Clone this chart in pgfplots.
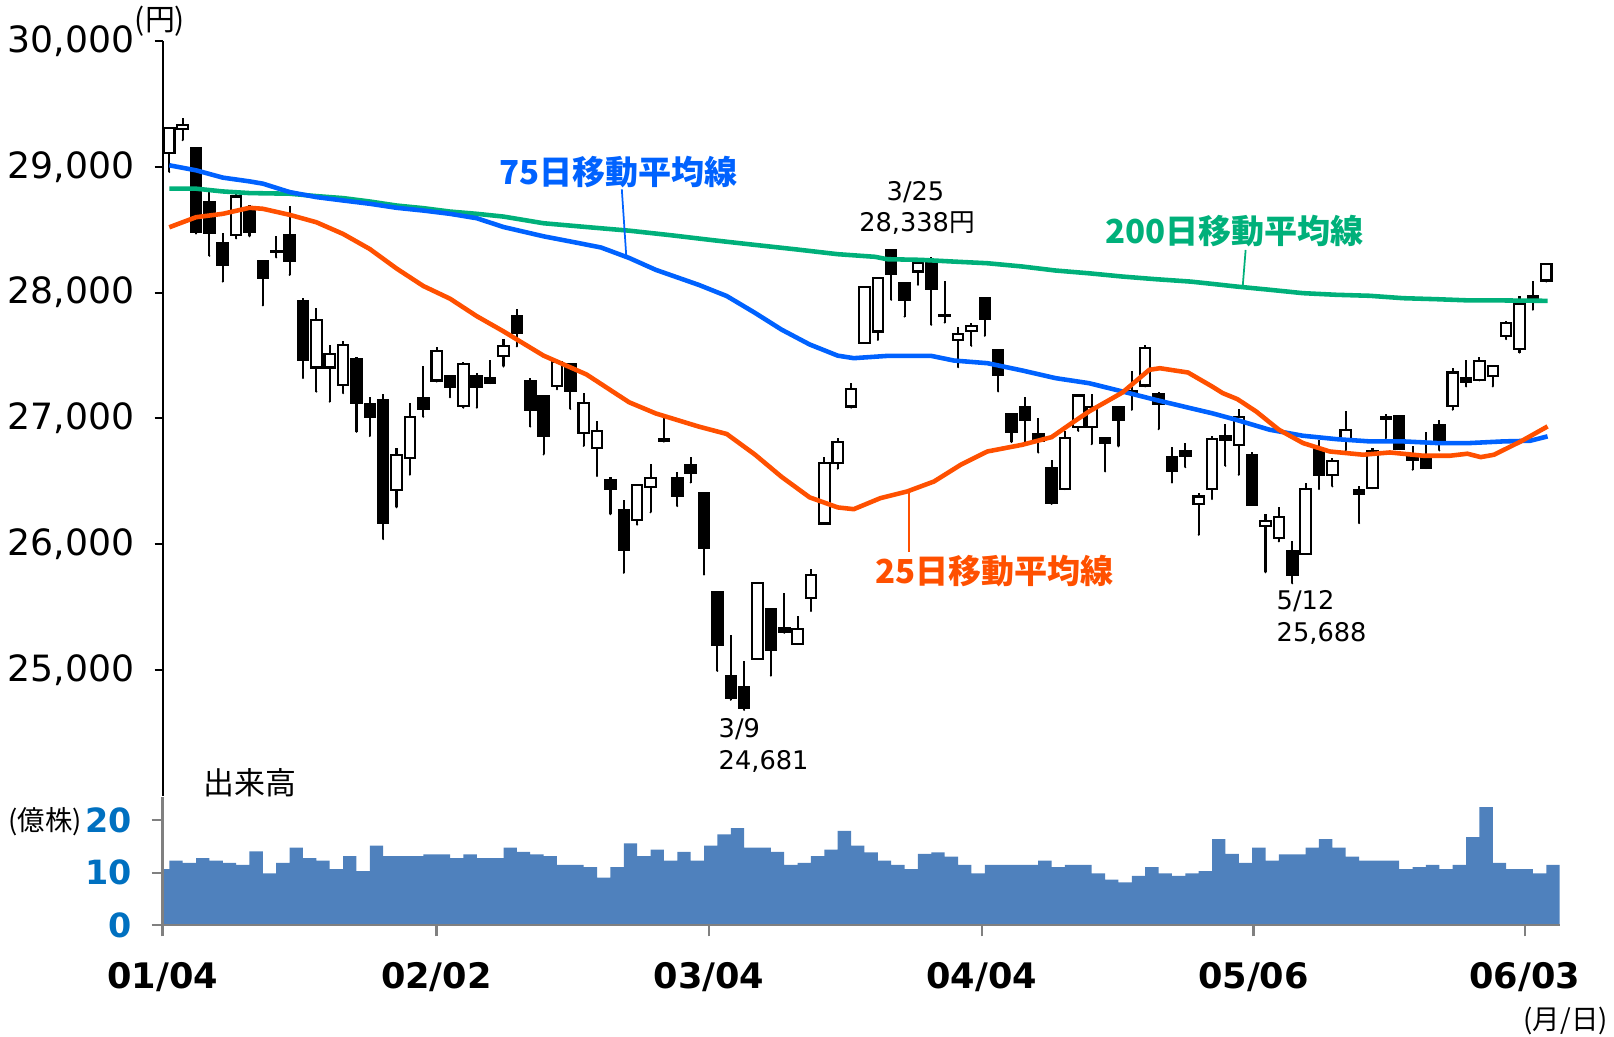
\documentclass[border=0pt]{standalone}
\usepackage{fontspec}
\setmainfont{DejaVu Sans}
\newfontfamily\jp{Noto Sans CJK JP}
\usepackage{pgfplots}
\usepackage{pgfplotstable}
\pgfplotsset{compat=1.18}

\definecolor{ma75}{RGB}{0,98,255}
\definecolor{ma25}{RGB}{255,80,0}
\definecolor{ma200}{RGB}{0,176,122}
\definecolor{volblue}{RGB}{79,129,189}
\definecolor{volnum}{RGB}{0,112,192}
\definecolor{axgray}{RGB}{128,128,128}

% daily candles: x = day index + 0.5, open high low close
\pgfplotstableread{
x o h l c
0.5 29112 29320 28960 29312
1.5 29299 29392 29213 29333
2.5 29147 29155 28470 28485
3.5 28720 28800 28293 28475
4.5 28392 28472 28088 28219
5.5 28459 28787 28432 28765
6.5 28672 28700 28448 28485
7.5 28253 28253 27899 28115
8.5 28320 28453 28280 28333
9.5 28461 28693 28141 28253
10.5 27933 27960 27320 27467
11.5 27405 27875 27213 27779
12.5 27405 27587 27133 27512
13.5 27267 27619 27200 27587
14.5 27475 27488 26893 27125
15.5 27112 27173 26859 27013
16.5 27147 27192 26040 26168
17.5 26432 26765 26293 26712
18.5 26685 27125 26552 27008
19.5 27165 27413 27013 27075
20.5 27301 27565 27293 27539
21.5 27333 27347 27168 27248
22.5 27099 27445 27085 27435
23.5 27333 27360 27085 27253
24.5 27320 27467 27280 27285
25.5 27493 27632 27413 27573
26.5 27810 27869 27573 27683
27.5 27297 27321 26935 27069
28.5 27181 27187 26713 26861
29.5 27255 27448 27232 27448
30.5 27430 27439 27075 27217
31.5 26882 27202 26781 27119
32.5 26763 26980 26541 26900
33.5 26511 26535 26238 26437
34.5 26274 26348 25772 25950
35.5 26194 26470 26155 26470
36.5 26455 26639 26253 26526
37.5 26822 27003 26815 26835
38.5 26529 26570 26303 26381
39.5 26630 26689 26490 26570
40.5 26407 26407 25758 25971
41.5 25621 25630 24992 25200
42.5 24954 25274 24761 24776
43.5 24865 25067 24681 24696
44.5 25087 25695 25087 25689
45.5 25482 25488 24954 25156
46.5 25333 25615 25295 25300
47.5 25206 25428 25206 25325
48.5 25571 25799 25467 25755
49.5 26164 26689 26164 26644
50.5 26644 26846 26600 26811
51.5 27095 27283 27085 27234
52.5 27603 28043 27603 28043
53.5 27691 28115 27624 28115
54.5 28335 28338 27943 28147
55.5 28080 28080 27810 27943
56.5 28168 28260 28062 28239
57.5 28239 28282 27744 28027
58.5 27825 28094 27762 27815
59.5 27624 27730 27407 27670
60.5 27696 27757 27577 27738
61.5 27961 27961 27656 27789
62.5 27540 27550 27214 27346
63.5 27034 27041 26811 26896
64.5 27094 27174 26803 26989
65.5 26877 27002 26729 26824
66.5 26604 26671 26320 26331
67.5 26437 26896 26437 26843
68.5 26928 27193 26901 27182
69.5 26928 27193 26795 27093
70.5 26843 26843 26578 26808
71.5 27094 27094 26777 26989
72.5 27221 27378 27068 27212
73.5 27262 27585 27254 27558
74.5 27195 27206 26914 27116
75.5 26689 26771 26490 26586
76.5 26742 26803 26612 26702
77.5 26318 26406 26074 26379
78.5 26438 26862 26358 26838
79.5 26857 26957 26623 26830
80.5 26790 27074 26552 27010
81.5 26711 26729 26313 26313
82.5 26147 26242 25775 26181
83.5 26048 26295 26022 26215
84.5 25942 26022 25688 25757
85.5 25924 26486 25924 26438
86.5 26756 26830 26438 26552
87.5 26552 26684 26459 26658
88.5 26830 27055 26745 26909
89.5 26432 26459 26167 26401
90.5 26446 26764 26446 26737
91.5 27010 27037 26843 26994
92.5 27015 27015 26756 26756
93.5 26692 26782 26592 26671
94.5 26698 26888 26605 26605
95.5 26949 26989 26745 26822
96.5 27100 27400 27069 27365
97.5 27320 27466 27254 27286
98.5 27302 27487 27302 27453
99.5 27334 27418 27254 27418
100.5 27657 27771 27630 27758
101.5 27551 27970 27524 27909
102.5 27975 28089 27864 27948
103.5 28097 28229 28089 28229
}\candles

% volume (100 million shares), step starts
\pgfplotstableread{
x v
0 10.7
0.5 12.3
1.5 11.9
2.5 12.8
3.5 12.3
4.5 11.9
5.5 11.5
6.5 14.1
7.5 9.9
8.5 11.9
9.5 14.8
10.5 12.8
11.5 12.3
12.5 10.7
13.5 13.2
14.5 10.3
15.5 15.2
16.5 13.2
17.5 13.2
18.5 13.2
19.5 13.5
20.5 13.5
21.5 12.8
22.5 13.5
23.5 12.8
24.5 12.8
25.5 14.8
26.5 14.0
27.5 13.5
28.5 13.2
29.5 11.5
30.5 11.5
31.5 11.1
32.5 9.1
33.5 11.1
34.5 15.6
35.5 13.2
36.5 14.4
37.5 12.3
38.5 14.0
39.5 12.3
40.5 15.2
41.5 17.3
42.5 18.5
43.5 14.8
44.5 14.8
45.5 14.0
46.5 11.5
47.5 11.9
48.5 13.2
49.5 14.4
50.5 18.0
51.5 15.2
52.5 13.9
53.5 12.3
54.5 11.5
55.5 10.7
56.5 13.6
57.5 13.9
58.5 13.1
59.5 11.5
60.5 9.9
61.5 11.5
62.5 11.5
63.5 11.5
64.5 11.5
65.5 12.3
66.5 11.1
67.5 11.5
68.5 11.5
69.5 9.9
70.5 8.7
71.5 8.2
72.5 9.4
73.5 11.1
74.5 9.9
75.5 9.4
76.5 9.9
77.5 10.3
78.5 16.4
79.5 13.6
80.5 11.9
81.5 14.8
82.5 12.3
83.5 13.5
84.5 13.5
85.5 14.8
86.5 16.4
87.5 14.8
88.5 13.1
89.5 12.3
90.5 12.3
91.5 12.3
92.5 10.7
93.5 11.1
94.5 11.5
95.5 10.7
96.5 11.5
97.5 16.8
98.5 22.5
99.5 11.9
100.5 10.7
101.5 10.7
102.5 9.9
103.5 11.5
104.5 11.5
}\volume

\pgfplotsset{
  pricebox/.style={
    width=139.7mm, height=75.44mm, scale only axis,
    xmin=0, xmax=104.5, ymin=24000, ymax=30000,
    anchor=north west, at={(16.26mm,-4.12mm)},
  },
}

\begin{document}
\begin{tikzpicture}
\useasboundingbox (0,0) rectangle (161.4mm,-103.7mm);

% wicks
\begin{axis}[pricebox, hide axis]
\addplot[only marks, mark=*, mark options={draw=none, fill=none, scale=0.01},
  error bars/.cd, y dir=plus, y explicit, error mark=none,
  error bar style={draw=black, solid, line width=0.6pt}]
  table[x=x, y=l, y error expr=\thisrow{h}-\thisrow{l}] {\candles};
\end{axis}

% bodies
\begin{axis}[pricebox, hide axis, ybar stacked, bar width=0.78]
\addplot[draw=none, fill=none] table[x=x, y expr={min(\thisrow{o},\thisrow{c})}] {\candles};
\addplot[fill=white, draw=black, line width=0.6pt] table[x=x, y expr={max(\thisrow{c}-\thisrow{o},0)}] {\candles};
\addplot[fill=black, draw=black, line width=0.6pt] table[x=x, y expr={max(\thisrow{o}-\thisrow{c},0)}] {\candles};
\end{axis}

% moving averages and price axis
\begin{axis}[pricebox, clip=false,
  axis x line=none, axis y line=left,
  axis line style={-, black, line width=0.55pt},
  ytick={25000,26000,27000,28000,29000,30000},
  scaled y ticks=false,
  yticklabel={\pgfmathprintnumber[fixed, precision=0, 1000 sep={,}, assume math mode=true]{\tick}},
  tick align=outside, major tick length=0.8mm,
  tick style={black, line width=0.55pt},
  yticklabel style={font=\fontsize{10.3}{12}\selectfont, xshift=-0.8mm}]
\addplot[ma200, line width=1.3pt] coordinates {
 (0.5,28827) (2.5,28827) (4.5,28805) (6.5,28792) (9.5,28787) (11.5,28768)
 (13.5,28752) (15.5,28725) (17.5,28693) (19.5,28672) (21.5,28645) (23.5,28627)
 (25.5,28605) (28.5,28552) (31.7,28522) (34.9,28493) (38,28457) (41.1,28418)
 (44.3,28380) (47.4,28344) (50.5,28306) (53.3,28285) (54.2,28266) (56.7,28261)
 (59.2,28247) (61.7,28234) (64.3,28208) (66.8,28176) (69.3,28154) (71.8,28128)
 (74.3,28107) (76.9,28088) (78.5,28070) (80.3,28049) (82.8,28023) (85.3,27996)
 (87.8,27983) (90.3,27975) (92.8,27956) (95.3,27948) (97.8,27938) (100.3,27938)
 (103.6,27935)};
\addplot[ma75, line width=1.3pt] coordinates {
 (0.5,29013) (2.5,28973) (4.5,28915) (6.5,28885) (7.5,28867) (9.5,28800)
 (11.5,28760) (13.5,28733) (15.5,28707) (17.5,28675) (19.5,28653) (21.5,28627)
 (23.5,28592) (25.5,28522) (28.5,28448) (30.7,28403) (32.8,28359) (34.9,28276)
 (36.9,28181) (40.1,28062) (42.2,27973) (44.3,27840) (46.3,27706) (48.4,27588)
 (50.5,27499) (51.7,27479) (54.2,27497) (57.5,27497) (59.2,27460) (61.7,27439)
 (64.3,27381) (66.8,27320) (69.3,27280) (71.8,27214) (74.3,27147) (76.9,27081)
 (78.5,27041) (80.3,26989) (82.8,26910) (85.3,26862) (87.8,26835) (90.3,26817)
 (92.8,26817) (95.3,26804) (97.8,26804) (100.3,26817) (102.3,26822) (103.6,26857)};
\addplot[ma25, line width=1.3pt] coordinates {
 (0.5,28520) (2.5,28600) (4.5,28627) (6.5,28675) (7.5,28667) (9.5,28619)
 (11.5,28560) (13.5,28467) (15.5,28347) (17.5,28192) (19.5,28053) (21.5,27952)
 (23.5,27813) (25.5,27692) (28.5,27499) (31.7,27350) (34.9,27128) (36.9,27039)
 (40.1,26935) (42.2,26876) (44.3,26713) (46.3,26535) (48.4,26372) (50.5,26292)
 (51.7,26278) (53.7,26366) (55.7,26419) (57.7,26498) (59.7,26631) (61.7,26737)
 (64.3,26790) (66.5,26851) (68,26962) (69.3,27055) (71.8,27206) (73.8,27386)
 (74.6,27399) (76.7,27365) (78.5,27254) (79.3,27201) (80.4,27153) (81.8,27055)
 (83.5,26910) (85.3,26804) (87.3,26737) (89.8,26711) (91.8,26729) (94.3,26703)
 (96.3,26703) (97.6,26719) (98.6,26692) (99.6,26711) (101.6,26817) (103.6,26936)};
\end{axis}

% volume
\begin{axis}[width=139.7mm, height=12.86mm, scale only axis,
  anchor=north west, at={(16.26mm,-79.67mm)},
  xmin=0, xmax=104.5, ymin=0, ymax=24.5,
  axis on top, axis x line=bottom, axis y line=left,
  axis line style={-, draw=axgray, line width=0.65pt},
  xtick={0,20.48,40.88,61.28,81.6,101.9},
  xticklabels={01/04,02/02,03/04,04/04,05/06,06/03},
  ytick={0,10,20},
  tick align=outside, major tick length=1.1mm,
  tick style={axgray, line width=0.65pt},
  xticklabel style={font=\bfseries\fontsize{10}{12}\selectfont, yshift=-1.4mm},
  yticklabel style={font=\bfseries\fontsize{9.5}{11}\selectfont, text=volnum, xshift=-0.7mm},
  /pgf/number format/assume math mode=true]
\addplot[const plot, fill=volblue, draw=none] table[x=x, y=v] {\volume} \closedcycle;
\end{axis}

% labels in picture units (1 unit = 1 px of the reference)
\begin{scope}[x=0.1mm, y=-0.1mm]
\draw[ma75, line width=0.5pt] (621.8,189.3) -- (626.4,258.3);
\draw[ma25, line width=0.5pt] (909.3,493.3) -- (909.3,551.7);
\draw[ma200, line width=0.5pt] (1245.6,250) -- (1242.8,285);
\node[text=ma75, font=\jp\bfseries\fontsize{9.4}{12}\selectfont] at (618.6,171.9) {75日移動平均線};
\node[text=ma25, font=\jp\bfseries\fontsize{9.4}{12}\selectfont] at (994.4,571) {25日移動平均線};
\node[text=ma200, font=\jp\bfseries\fontsize{9.4}{12}\selectfont] at (1234.4,231) {200日移動平均線};
\node[font=\fontsize{7.3}{9}\selectfont] at (915.5,191.7) {3/25};
\node[font=\fontsize{7.3}{9}\selectfont] at (917,223) {28,338{\jp 円}};
\node[font=\fontsize{7.3}{9}\selectfont, anchor=west, inner sep=0pt] at (718,729.5) {3/9};
\node[font=\fontsize{7.3}{9}\selectfont, anchor=west, inner sep=0pt] at (718,761) {24,681};
\node[font=\fontsize{7.3}{9}\selectfont, anchor=west, inner sep=0pt] at (1276,600.7) {5/12};
\node[font=\fontsize{7.3}{9}\selectfont, anchor=west, inner sep=0pt] at (1276,633) {25,688};
\node[font=\jp\fontsize{8.8}{10}\selectfont, anchor=west, inner sep=0pt] at (203,782.5) {出来高};
\node[font=\jp\fontsize{7.8}{10}\selectfont, anchor=west, inner sep=0pt] at (7.8,821.5) {(億株)};
\node[font=\jp\fontsize{8.5}{10}\selectfont] at (160,21.3) {(円)};
\node[font=\jp\fontsize{7.8}{10}\selectfont] at (1565.7,1020.8) {(月/日)};
\end{scope}
\end{tikzpicture}
\end{document}
